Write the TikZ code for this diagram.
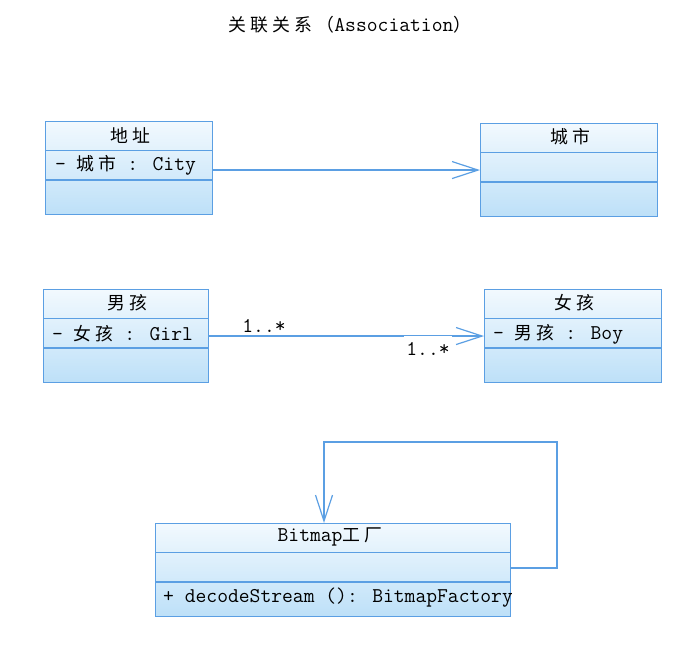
\documentclass[tikz,border=0pt]{standalone}
\usepackage{fontspec}
\newfontfamily\cjk[Scale=0.85,LetterSpace=23]{Noto Sans CJK SC}
\usetikzlibrary{arrows.meta,calc}
\definecolor{umlline}{HTML}{5B9FE3}
\definecolor{umltop}{HTML}{F2F9FE}
\definecolor{umlfill}{HTML}{BDE0F8}
\tikzset{
	classbox/.style={draw=umlline, line width=1.1pt, top color=umltop, bottom color=umlfill,
			anchor=north west, inner sep=0pt},
	divider/.style={draw=umlline, line width=1.1pt},
	member/.style={anchor=west, inner sep=0pt},
	assoc/.style={draw=umlline, line width=1.2pt, -{Straight Barb[length=26pt,width=17pt]}},
	mult/.style={inner sep=2pt}
}

\begin{document}
\begin{tikzpicture}[x=1pt,y=-1pt,font=\ttfamily\fontsize{21}{25}\selectfont]
        \useasboundingbox (0,0) rectangle (696,649);
        \node (title) at (350,25) {{\cjk 关联关系（}Association{\cjk ）}};
        \node[classbox,minimum width=167pt,minimum height=93pt] (addr) at (45,121) {};
        \node[classbox,minimum width=177pt,minimum height=93pt] (city) at (480,123) {};
        \node[classbox,minimum width=165pt,minimum height=93pt] (boy) at (43,289) {};
        \node[classbox,minimum width=177pt,minimum height=93pt] (girl) at (484,289) {};
        \node[classbox,minimum width=355pt,minimum height=93pt] (factory) at (155,523) {};
        \foreach \cls in {addr,city,boy,girl,factory} {
            \draw[divider] ($(\cls.north west)+(0,29.5)$) -- ($(\cls.north east)+(0,29.5)$);
            \draw[divider] ($(\cls.north west)+(0,59)$) -- ($(\cls.north east)+(0,59)$);
        }
        \node (addrname) at (130,136) {\cjk 地址};
        \node[member] (addrattr) at (55,165) {-{ }{\cjk 城市} : City};
        \node (cityname) at (570,137) {\cjk 城市};
        \node (boyname) at (127,303) {\cjk 男孩};
        \node[member] (boyattr) at (52,334) {-{ }{\cjk 女孩} : Girl};
        \node (girlname) at (574,303) {\cjk 女孩};
        \node[member] (girlattr) at (493,334) {-{ }{\cjk 男孩} : Boy};
        \node (factoryname) at (330,537) {Bitmap{\cjk 工厂}};
        \begin{scope}
            \clip (factory.south west) rectangle (factory.north east);
            \node[member] (factoryop) at (163,598) {+ decodeStream (): BitmapFactory};
        \end{scope}
        \draw[assoc] (addr.east |- city.west) -- (city.west);
        \draw[assoc] (boy.east) -- (girl.west);
        \node[mult] (multboy) at (264,326) {1..*};
        \node[mult,inner ysep=6pt,fill=white] (multgirl) at (428,349) {1..*};
        \coordinate (loopne) at (557,442);
        \coordinate (loopnw) at (324,442);
        \draw[assoc] ($(factory.east)+(0,-2)$) -| (loopne) -- (loopnw) -- (loopnw |- factory.north);
    \end{tikzpicture}
\end{document}
